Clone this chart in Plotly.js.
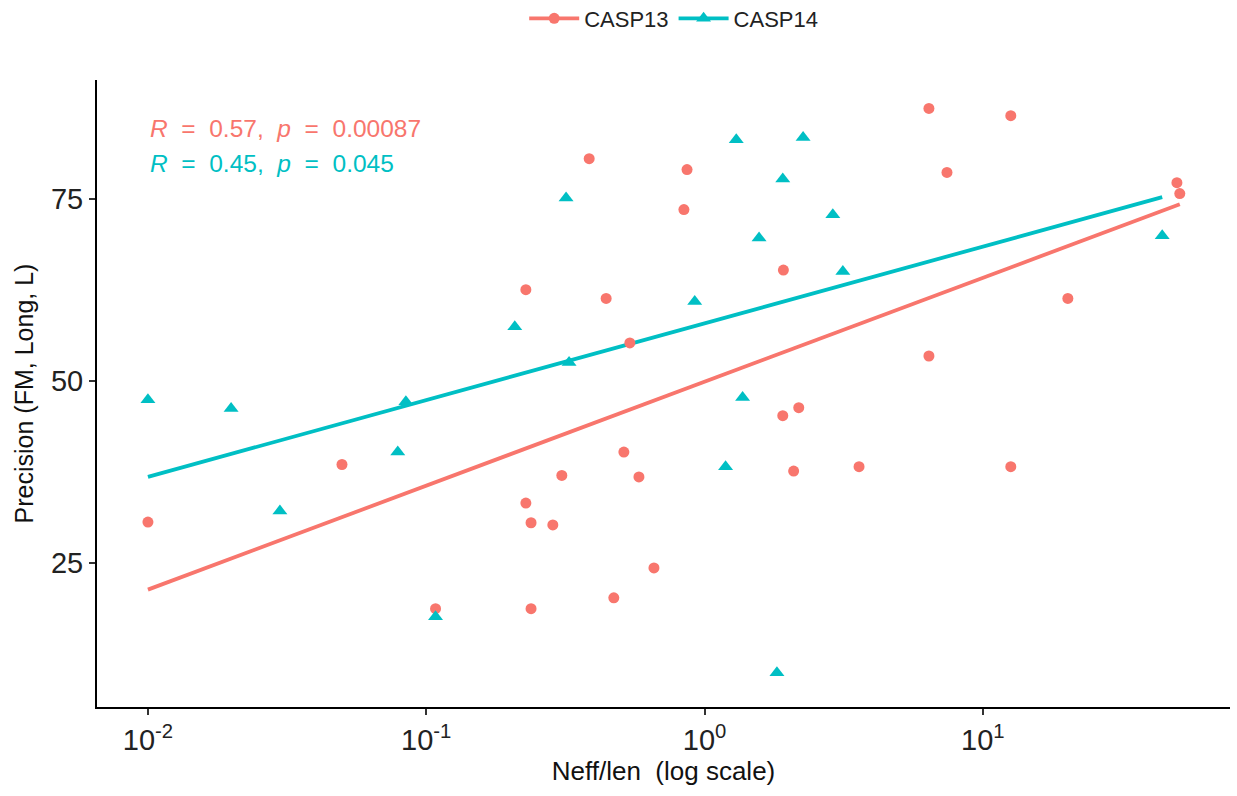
<!DOCTYPE html>
<html>
<head>
<meta charset="utf-8">
<script src="https://cdn.plot.ly/plotly-3.0.1.min.js"></script>
<style>
  html, body { margin: 0; padding: 0; background: #fff; }
  #chart { width: 1237px; height: 796px; }
</style>
</head>
<body>
<div id="chart"></div>
<script>
// ---- data ----
const casp13X = [0.01, 0.0498, 0.108, 0.228, 0.228, 0.238, 0.238, 0.285, 0.307, 0.385,
                 0.443, 0.472, 0.513, 0.539, 0.581, 0.658, 0.843, 0.865, 1.91, 1.92,
                 2.09, 2.18, 3.59, 6.40, 6.40, 7.43, 12.6, 12.6, 20.2, 49.8, 51.0];
const casp13Y = [30.6, 38.5, 18.7, 62.5, 33.2, 30.5, 18.7, 30.2, 37.0, 80.5,
                 61.3, 20.2, 40.2, 55.2, 36.8, 24.3, 73.5, 79.0, 45.2, 65.2,
                 37.6, 46.3, 38.2, 87.4, 53.4, 78.6, 86.4, 38.2, 61.3, 77.2, 75.7];

const casp14X = [0.01, 0.0199, 0.0298, 0.079, 0.0845, 0.108, 0.208, 0.318, 0.326, 0.922,
                 1.19, 1.30, 1.37, 1.57, 1.82, 1.91, 2.26, 2.89, 3.14, 44.1];
const casp14Y = [47.4, 46.2, 32.1, 40.2, 47.1, 17.6, 57.4, 75.1, 52.5, 60.9,
                 38.2, 83.1, 47.7, 69.6, 9.9, 77.7, 83.4, 72.8, 65.0, 69.9];

const seriesNames = ['CASP13', 'CASP14'];
const seriesColors = ['#F8766D', '#00BFC4'];
const statTexts = [
  '<i>R</i>\u00A0 = \u00A00.57,\u00A0 <i>p</i>\u00A0 = \u00A00.00087',
  '<i>R</i>\u00A0 = \u00A00.45,\u00A0 <i>p</i>\u00A0 = \u00A00.045'
];
const xTickVals = [0.01, 0.1, 1, 10];
const xTickText = ['10<sup>-2</sup>', '10<sup>-1</sup>', '10<sup>0</sup>', '10<sup>1</sup>'];
const yTickVals = [25, 50, 75];

// ---- linear fit of y on log10(x), as geom_smooth(method = "lm") on a log axis ----
function fitLine(xs, ys) {
  const lx = xs.map(v => Math.log10(v));
  const n = lx.length;
  const mx = lx.reduce((a, b) => a + b, 0) / n;
  const my = ys.reduce((a, b) => a + b, 0) / n;
  let sxy = 0, sxx = 0;
  for (let i = 0; i < n; i++) { sxy += (lx[i] - mx) * (ys[i] - my); sxx += (lx[i] - mx) ** 2; }
  const b = sxy / sxx, a = my - b * mx;
  const lo = Math.min(...lx), hi = Math.max(...lx);
  const fx = [], fy = [];
  for (let k = 0; k <= 20; k++) {
    const l = lo + (hi - lo) * k / 20;
    fx.push(Math.pow(10, l)); fy.push(a + b * l);
  }
  return {x: fx, y: fy};
}

const f13 = fitLine(casp13X, casp13Y);
const f14 = fitLine(casp14X, casp14Y);

const FONT = '"Liberation Sans", Arial, Helvetica, sans-serif';

const traces = [
  {x: f13.x, y: f13.y, mode: 'lines', line: {color: seriesColors[0], width: 3.8}, showlegend: false, hoverinfo: 'skip'},
  {x: f14.x, y: f14.y, mode: 'lines', line: {color: seriesColors[1], width: 3.8}, showlegend: false, hoverinfo: 'skip'},
  {x: casp13X, y: casp13Y, mode: 'markers', name: seriesNames[0], showlegend: false,
   marker: {color: seriesColors[0], size: 11, symbol: 'circle'}},
  {x: casp14X, y: casp14Y, mode: 'markers', name: seriesNames[1], showlegend: false,
   marker: {color: seriesColors[1], size: 13, symbol: 'triangle-up'}},
  // legend keys (line + point, as in the ggplot legend)
  {x: [null], y: [null], mode: 'lines+markers', name: seriesNames[0],
   line: {color: seriesColors[0], width: 3.8}, marker: {color: seriesColors[0], size: 11, symbol: 'circle'}},
  {x: [null], y: [null], mode: 'lines+markers', name: seriesNames[1],
   line: {color: seriesColors[1], width: 3.8}, marker: {color: seriesColors[1], size: 13, symbol: 'triangle-up'}}
];

const layout = {
  width: 1237, height: 796,
  margin: {l: 97, r: 7, t: 80, b: 89, autoexpand: false},
  paper_bgcolor: '#ffffff', plot_bgcolor: '#ffffff',
  font: {family: FONT, color: '#222'},
  showlegend: true,
  legend: {orientation: 'h', x: 0.509, xanchor: 'center', y: 1.098, yanchor: 'middle',
           font: {size: 22, color: '#222'}, itemwidth: 50, tracegroupgap: 0},
  xaxis: {
    type: 'log', range: [-2.183, 1.888],
    tickvals: xTickVals, ticktext: xTickText,
    showgrid: false, zeroline: false,
    showline: true, linecolor: '#000', linewidth: 2,
    ticks: 'outside', ticklen: 6, tickwidth: 2, tickcolor: '#333',
    tickfont: {size: 29, color: '#222'},
    title: {text: 'Neff/len\u00A0 (log scale)', font: {size: 26, color: '#111'}, standoff: 0}
  },
  yaxis: {
    range: [5.2, 91.3],
    tickvals: yTickVals,
    showgrid: false, zeroline: false,
    showline: true, linecolor: '#000', linewidth: 2,
    ticks: 'outside', ticklen: 6, tickwidth: 2, tickcolor: '#333',
    tickfont: {size: 29, color: '#222'},
    title: {text: 'Precision (FM, Long, L)', font: {size: 25, color: '#111'}, standoff: 10}
  },
  annotations: [
    {x: -2, y: 84.6, xref: 'x', yref: 'y', xanchor: 'left', yanchor: 'middle', showarrow: false,
     text: statTexts[0], font: {size: 24.5, color: seriesColors[0]}},
    {x: -2, y: 79.9, xref: 'x', yref: 'y', xanchor: 'left', yanchor: 'middle', showarrow: false,
     text: statTexts[1], font: {size: 24.5, color: seriesColors[1]}}
  ]
};

Plotly.newPlot('chart', traces, layout, {displayModeBar: false, staticPlot: true});
</script>
</body>
</html>
